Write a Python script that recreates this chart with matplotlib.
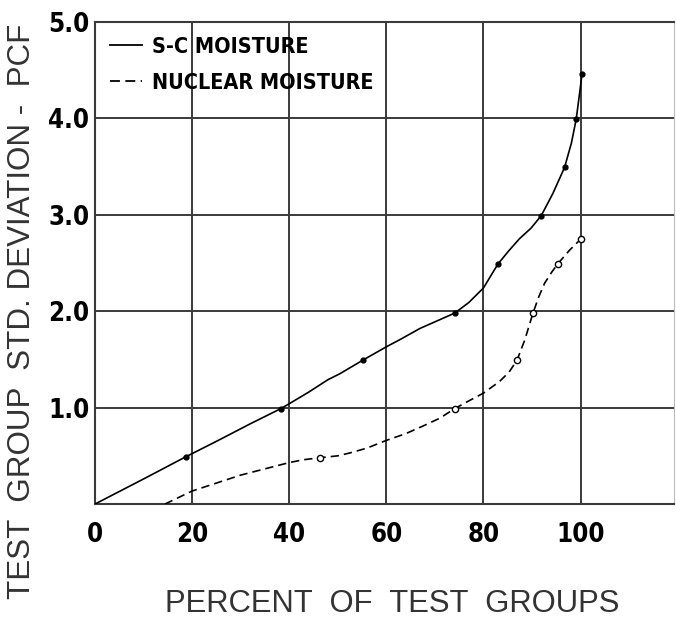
import matplotlib.pyplot as plt
from matplotlib.lines import Line2D
from matplotlib.font_manager import FontProperties

# Traced curves (percent of test groups, std. deviation in pcf)
sc_curve_x = [0, 10, 18.7, 25, 31.9, 38.3, 40, 44, 48, 50.4, 55.1, 60, 63, 66.9, 70.5, 74.1,
              77, 80, 83.0, 85.3, 87.4, 89.8, 91.9, 94.3, 96.7, 98.1, 99.1, 99.8, 100.3]
sc_curve_y = [0, 0.26, 0.49, 0.65, 0.83, 0.99, 1.04, 1.16, 1.29, 1.35, 1.49, 1.63, 1.71, 1.82, 1.90, 1.98,
              2.09, 2.24, 2.49, 2.63, 2.75, 2.86, 2.99, 3.22, 3.49, 3.74, 3.99, 4.26, 4.46]

nuc_curve_x = [14.4, 20, 30, 40, 43, 46.3, 50, 52.5, 56, 60, 64, 67.6, 71, 74.1, 77, 80,
               83.3, 85.3, 86.9, 88.5, 90.2, 91.4, 92.6, 94, 95.3, 97.7, 100.1]
nuc_curve_y = [0, 0.135, 0.30, 0.43, 0.46, 0.48, 0.50, 0.53, 0.58, 0.66, 0.73, 0.81, 0.89, 0.99, 1.07, 1.15,
               1.27, 1.37, 1.49, 1.70, 1.98, 2.15, 2.29, 2.40, 2.49, 2.63, 2.75]

# Plotted test points
sc_pts_x = [18.7, 38.3, 55.1, 74.1, 83.0, 91.9, 96.7, 99.1, 100.3]
sc_pts_y = [0.49, 0.99, 1.49, 1.98, 2.49, 2.99, 3.49, 3.99, 4.46]
nuc_pts_x = [46.3, 74.1, 86.9, 90.2, 95.3, 100.1]
nuc_pts_y = [0.48, 0.99, 1.49, 1.98, 2.49, 2.75]

x_ticks = [0, 20, 40, 60, 80, 100]
y_ticks = [1.0, 2.0, 3.0, 4.0, 5.0]

grid_col = '#3a3a3a'


def narrow(size):
    return FontProperties(family='DejaVu Sans', weight='bold', stretch='condensed', size=size)


fig = plt.figure(figsize=(6.76, 6.2), dpi=100)
ax = fig.add_axes([0.1405, 0.187, 0.857, 0.778])

for xv in x_ticks[1:]:
    ax.axvline(xv, color=grid_col, lw=1.4, zorder=1)
for yv in y_ticks[:-1]:
    ax.axhline(yv, color=grid_col, lw=1.4, zorder=1)

ax.plot(sc_curve_x, sc_curve_y, color='black', lw=1.2, zorder=3)
ax.plot(nuc_curve_x, nuc_curve_y, color='black', lw=1.2, ls=(0, (5, 3)), zorder=3)
ax.plot(sc_pts_x, sc_pts_y, 'o', color='black', ms=3.5, zorder=4)
ax.plot(nuc_pts_x, nuc_pts_y, 'o', mfc='white', mec='black', mew=1.0, ms=4.5, zorder=4)

ax.set_xlim(0, 119.3)
ax.set_ylim(0, 5.0)
ax.set_xticks(x_ticks)
ax.set_xticklabels([str(v) for v in x_ticks], fontproperties=narrow(18.5))
ax.set_yticks(y_ticks)
ax.set_yticklabels(['1.0', '2.0', '3.0', '4.0', '5.0'], fontproperties=narrow(18.5))
ax.tick_params(axis='x', length=0, pad=13)
ax.tick_params(axis='y', length=0, pad=4)

for side in ['left', 'bottom', 'top']:
    ax.spines[side].set_color(grid_col)
    ax.spines[side].set_linewidth(1.5)
ax.spines['right'].set_color('#bbbbbb')
ax.spines['right'].set_linewidth(0.8)

handles = [Line2D([], [], color='black', lw=1.3),
           Line2D([], [], color='black', lw=1.3, ls=(0, (5.5, 3)))]
leg = ax.legend(handles, ['S-C MOISTURE', 'NUCLEAR MOISTURE'], loc='upper left',
                frameon=False, handlelength=1.5, handletextpad=0.45, labelspacing=0.75,
                borderaxespad=0.3, prop=narrow(15.5))

fig.text(0.5805, 0.025, 'PERCENT  OF  TEST  GROUPS', ha='center', va='center',
         fontsize=22.3, color='#333333', family='Liberation Sans')
fig.text(0.033, 0.4975, 'TEST  GROUP  STD. DEVIATION -  PCF', ha='center', va='center',
         rotation=90, fontsize=22.6, color='#333333', family='Liberation Sans')

fig.savefig('out.png', dpi=100)
